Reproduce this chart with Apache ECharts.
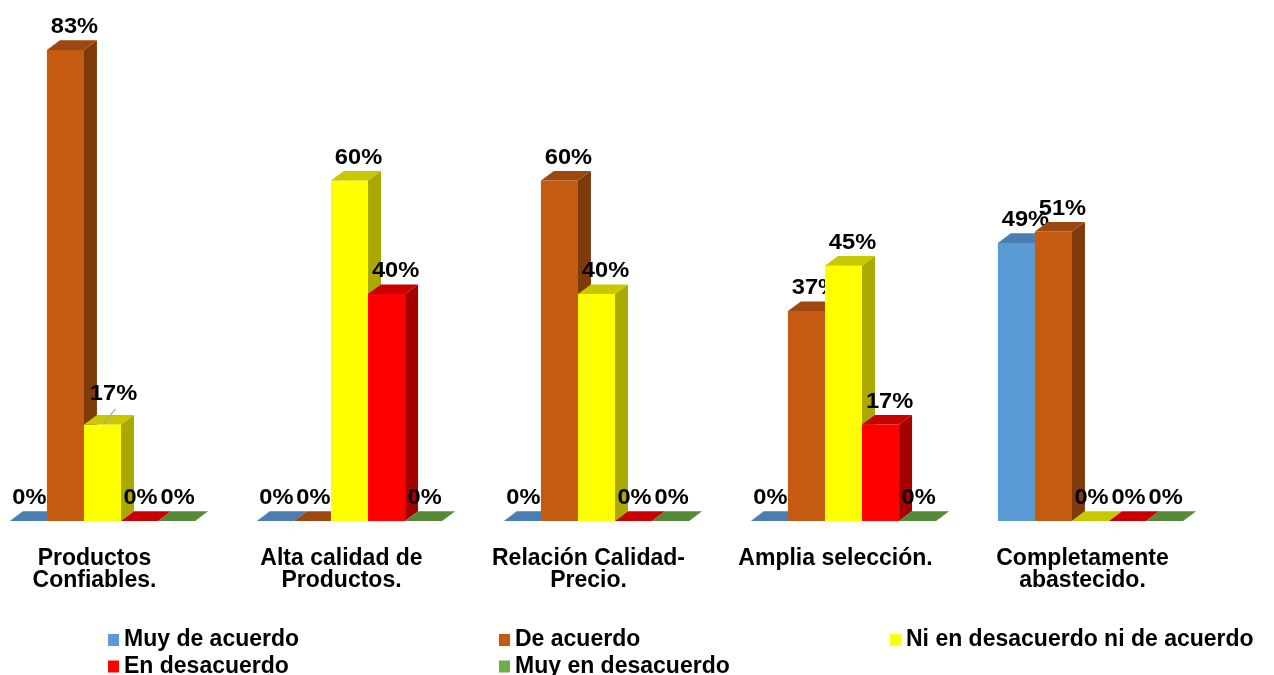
<!DOCTYPE html>
<html>
<head>
<meta charset="utf-8">
<script src="https://cdn.jsdelivr.net/npm/echarts@6/dist/echarts.min.js"></script>
<style>
  html, body { margin: 0; padding: 0; background: #ffffff; }
  #chart { width: 1274px; height: 675px; }
</style>
</head>
<body>
<div id="chart"></div>
<script>
// Survey categories (x axis)
const categories = [
  'Productos\nConfiables.',
  'Alta calidad de\nProductos.',
  'Relación Calidad-\nPrecio.',
  'Amplia selección.',
  'Completamente\nabastecido.'
];

// Percentages per answer option
const muyDeAcuerdo = [0, 0, 0, 0, 49];
const deAcuerdo = [83, 0, 60, 37, 51];
const niNi = [17, 60, 40, 45, 0];
const enDesacuerdo = [0, 40, 0, 17, 0];
const muyEnDesacuerdo = [0, 0, 0, 0, 0];

const seriesNames = [
  'Muy de acuerdo',
  'De acuerdo',
  'Ni en desacuerdo ni de acuerdo',
  'En desacuerdo',
  'Muy en desacuerdo'
];
const seriesValues = [muyDeAcuerdo, deAcuerdo, niNi, enDesacuerdo, muyEnDesacuerdo];

// Front / top / side shades for each column
const palette = [
  { front: '#5B9BD5', top: '#4A7EB0', side: '#3E6A96' },
  { front: '#C55A11', top: '#9C4810', side: '#7F3A0C' },
  { front: '#FFFF00', top: '#C8C800', side: '#A9A900' },
  { front: '#FF0000', top: '#C80000', side: '#A50000' },
  { front: '#70AD47', top: '#578A37', side: '#45702B' }
];

// Labels that were pulled up with a leader line: [series, category]
const leaderLabels = [[2, 0]];

const FONT = 'Arial, "Liberation Sans", sans-serif';

function hasLeader(s, c) {
  return leaderLabels.some(function (p) { return p[0] === s && p[1] === c; });
}

function makeRender(sIdx) {
  const col = palette[sIdx];
  return function (params, api) {
    const cat = api.value(0);
    const val = api.value(1);
    const base = api.coord([cat, 0]);
    const topPt = api.coord([cat, val]);
    const band = api.size([1, 0])[0];
    const barW = band * 0.15;
    const dx = barW * 0.35;
    const dy = barW * 0.26;
    const x0 = base[0] - 2.5 * barW + sIdx * barW;
    const x1 = x0 + barW;
    const yB = base[1];
    const yT = topPt[1];
    const children = [];

    if (val > 0) {
      children.push({
        type: 'rect',
        shape: { x: x0, y: yT, width: barW, height: yB - yT },
        style: { fill: col.front }
      });
      children.push({
        type: 'polygon',
        shape: { points: [[x1, yT], [x1 + dx, yT - dy], [x1 + dx, yB - dy], [x1, yB]] },
        style: { fill: col.side }
      });
    }
    children.push({
      type: 'polygon',
      shape: { points: [[x0, yT], [x0 + dx, yT - dy], [x1 + dx, yT - dy], [x1, yT]] },
      style: { fill: col.top }
    });

    let lx = x0 + barW / 2 + (val > 0 ? 9 : 1);
    let ly = yT - dy - 2;
    if (hasLeader(sIdx, cat)) {
      lx += 2;
      ly -= 8;
      children.push({
        type: 'line',
        shape: { x1: x0 + barW / 2 + 1, y1: yT - 1, x2: x0 + barW / 2 + 13, y2: yT - dy - 6 },
        style: { stroke: '#A6A6A6', lineWidth: 1.2 }
      });
    }
    children.push({
      type: 'text',
      x: lx,
      y: ly,
      scaleX: 1.1,
      style: {
        text: val + '%',
        align: 'center',
        verticalAlign: 'bottom',
        fontSize: 21.5,
        fontWeight: 'bold',
        fontFamily: FONT,
        fill: '#000000'
      }
    });
    return { type: 'group', children: children };
  };
}

const series = seriesNames.map(function (name, s) {
  return {
    name: name,
    type: 'custom',
    renderItem: makeRender(s),
    itemStyle: { color: palette[s].front },
    encode: { x: 0, y: 1 },
    data: seriesValues[s].map(function (v, i) { return [i, v]; })
  };
});

// Legend grid: three columns, two rows
const legendSlots = [
  { name: 'Muy de acuerdo', left: 108, top: 628.5 },
  { name: 'De acuerdo', left: 499, top: 628.5 },
  { name: 'Ni en desacuerdo ni de acuerdo', left: 890, top: 628.5 },
  { name: 'En desacuerdo', left: 108, top: 655 },
  { name: 'Muy en desacuerdo', left: 499, top: 655 }
];

const legends = legendSlots.map(function (slot) {
  return {
    data: [slot.name],
    left: slot.left,
    top: slot.top,
    padding: 0,
    itemWidth: 11,
    itemHeight: 12,
    icon: 'rect',
    selectedMode: false,
    textStyle: { fontSize: 23, fontWeight: 'bold', fontFamily: FONT, color: '#000' }
  };
});

const chart = echarts.init(document.getElementById('chart'));
chart.setOption({
  animation: false,
  backgroundColor: '#ffffff',
  grid: { left: -21, width: 1235, top: 50, bottom: 154, outerBoundsMode: 'none' },
  xAxis: {
    type: 'category',
    data: categories,
    axisLine: { show: false },
    axisTick: { show: false },
    splitLine: { show: false },
    axisLabel: {
      margin: 27,
      interval: 0,
      fontSize: 23,
      fontWeight: 'bold',
      fontFamily: FONT,
      color: '#000',
      lineHeight: 22,
      padding: [0, 16, 0, 0]
    }
  },
  yAxis: { type: 'value', min: 0, max: 83, show: false },
  legend: legends,
  series: series
});
</script>
</body>
</html>
